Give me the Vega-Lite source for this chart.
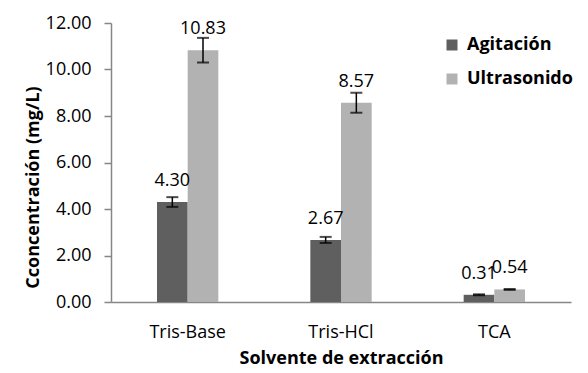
{
  "$schema": "https://vega.github.io/schema/vega-lite/v6.json",
  "autosize": "none",
  "width": 460,
  "height": 279,
  "padding": {"left": 111, "top": 23, "right": 17, "bottom": 71},
  "background": "white",
  "config": {
    "view": {"stroke": null},
    "font": "Open Sans",
    "text": {"font": "Open Sans"}
  },
  "data": {
    "values": [
      {"solvente": "Tris-Base", "metodo": "Agitación", "valor": 4.30, "lo": 4.09, "hi": 4.51},
      {"solvente": "Tris-Base", "metodo": "Ultrasonido", "valor": 10.83, "lo": 10.30, "hi": 11.36},
      {"solvente": "Tris-HCl", "metodo": "Agitación", "valor": 2.67, "lo": 2.54, "hi": 2.80},
      {"solvente": "Tris-HCl", "metodo": "Ultrasonido", "valor": 8.57, "lo": 8.14, "hi": 9.00},
      {"solvente": "TCA", "metodo": "Agitación", "valor": 0.31, "lo": 0.29, "hi": 0.33},
      {"solvente": "TCA", "metodo": "Ultrasonido", "valor": 0.54, "lo": 0.52, "hi": 0.56}
    ]
  },
  "encoding": {
    "x": {
      "field": "solvente",
      "type": "nominal",
      "sort": ["Tris-Base", "Tris-HCl", "TCA"],
      "scale": {"paddingInner": 0.6, "paddingOuter": 0.3},
      "axis": {
        "title": "Solvente de extracción",
        "labelAngle": 0,
        "labelFontSize": 18,
        "labelColor": "#000000",
        "labelPadding": 21,
        "ticks": false,
        "domainColor": "#868686",
        "domainWidth": 1.5,
        "titleFontSize": 18,
        "titleFontWeight": "bold",
        "titleColor": "#000000",
        "titleY": 56,
        "titleBaseline": "middle"
      }
    },
    "xOffset": {"field": "metodo", "type": "nominal", "sort": ["Agitación", "Ultrasonido"]}
  },
  "layer": [
    {
      "mark": {"type": "bar"},
      "encoding": {
        "y": {
          "field": "valor",
          "type": "quantitative",
          "scale": {"domain": [0, 12], "nice": false},
          "axis": {
            "title": "Cconcentración (mg/L)",
            "values": [0, 2, 4, 6, 8, 10, 12],
            "format": ".2f",
            "grid": false,
            "labelFontSize": 18,
            "labelColor": "#000000",
            "labelPadding": 13,
            "tickSize": 7,
            "tickColor": "#868686",
            "tickWidth": 1.5,
            "domainColor": "#868686",
            "domainWidth": 1.5,
            "titleFontSize": 18,
            "titleFontWeight": "bold",
            "titleColor": "#000000",
            "titleX": -78,
            "titleY": 164,
            "titleAlign": "center",
            "titleBaseline": "middle"
          }
        },
        "color": {
          "field": "metodo",
          "type": "nominal",
          "sort": ["Agitación", "Ultrasonido"],
          "scale": {"range": ["#5f5f5f", "#b2b2b2"]},
          "legend": {
            "title": null,
            "orient": "none",
            "legendX": 332,
            "legendY": 13,
            "symbolType": "square",
            "symbolSize": 121,
            "symbolStrokeWidth": 0,
            "labelFontSize": 18,
            "labelFontWeight": "bold",
            "labelColor": "#000000",
            "labelOffset": 6,
            "rowPadding": 16,
            "padding": 0
          }
        }
      }
    },
    {
      "mark": {"type": "rule", "color": "#000000", "strokeWidth": 1.5},
      "encoding": {
        "y": {"field": "lo", "type": "quantitative"},
        "y2": {"field": "hi"}
      }
    },
    {
      "mark": {"type": "tick", "orient": "horizontal", "color": "#000000", "size": 12, "thickness": 2},
      "encoding": {"y": {"field": "lo", "type": "quantitative"}}
    },
    {
      "mark": {"type": "tick", "orient": "horizontal", "color": "#000000", "size": 12, "thickness": 2},
      "encoding": {"y": {"field": "hi", "type": "quantitative"}}
    },
    {
      "mark": {"type": "text", "fontSize": 18, "color": "#000000", "baseline": "alphabetic", "dy": -16},
      "encoding": {
        "y": {"field": "valor", "type": "quantitative"},
        "text": {"field": "valor", "type": "quantitative", "format": ".2f"}
      }
    }
  ]
}
